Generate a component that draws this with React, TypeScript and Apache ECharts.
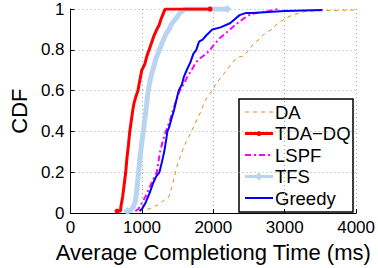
import React, { useEffect, useRef } from "react";
import * as echarts from "echarts";

const seriesNames = ["DA", "TDA\u2212DQ", "LSPF", "TFS", "Greedy"];
const xTicks = [0, 1000, 2000, 3000, 4000];
const yTicks = [0, 0.2, 0.4, 0.6, 0.8, 1];

const daData: [number, number][] = [
  [975, 0.01], [1000, 0.02], [1100, 0.02], [1222, 0.04], [1300, 0.06], [1380, 0.08], [1420, 0.13],
  [1470, 0.2], [1500, 0.24], [1560, 0.3], [1620, 0.35], [1694, 0.4], [1760, 0.45], [1829, 0.5],
  [1870, 0.54], [1920, 0.57], [1987, 0.6], [2050, 0.64], [2120, 0.67], [2189, 0.7], [2250, 0.73],
  [2324, 0.76], [2420, 0.77], [2503, 0.8], [2560, 0.83], [2638, 0.85], [2720, 0.88], [2818, 0.9],
  [2900, 0.93], [2998, 0.95], [3100, 0.97], [3222, 0.98], [3300, 0.99], [3990, 0.995],
];
const tdaData: [number, number][] = [
  [652, 0.01], [700, 0.01], [705, 0.03], [730, 0.08], [755, 0.15], [773, 0.2], [790, 0.27],
  [810, 0.33], [830, 0.4], [850, 0.45], [870, 0.5], [890, 0.54], [915, 0.57], [944, 0.6],
  [970, 0.65], [998, 0.7], [1040, 0.73], [1070, 0.77], [1101, 0.8], [1140, 0.84], [1170, 0.87],
  [1209, 0.9], [1240, 0.92], [1267, 0.95], [1290, 0.97], [1326, 1.0], [1955, 1.0],
];
const lspfData: [number, number][] = [
  [908, 0.01], [950, 0.02], [1000, 0.05], [1050, 0.08], [1100, 0.12], [1150, 0.16], [1209, 0.2],
  [1230, 0.25], [1254, 0.3], [1290, 0.35], [1335, 0.4], [1390, 0.45], [1430, 0.5], [1480, 0.55],
  [1530, 0.6], [1582, 0.63], [1640, 0.67], [1694, 0.7], [1760, 0.74], [1820, 0.76], [1900, 0.78],
  [1955, 0.8], [2020, 0.83], [2100, 0.86], [2170, 0.88], [2234, 0.9], [2300, 0.92], [2413, 0.95],
  [2500, 0.97], [2593, 0.98], [2700, 0.985], [2908, 1.0],
];
const tfsData: [number, number][] = [
  [795, 0.01], [830, 0.01], [880, 0.03], [908, 0.06], [930, 0.12], [953, 0.2], [975, 0.28],
  [1000, 0.35], [1020, 0.4], [1045, 0.47], [1065, 0.53], [1088, 0.6], [1120, 0.66], [1160, 0.71],
  [1200, 0.76], [1245, 0.8], [1290, 0.84], [1340, 0.88], [1380, 0.9], [1420, 0.93], [1470, 0.95],
  [1530, 0.98], [1604, 1.0], [2198, 1.0],
];
const greedyData: [number, number][] = [
  [966, 0.01], [1000, 0.02], [1050, 0.05], [1110, 0.1], [1160, 0.15], [1200, 0.18], [1245, 0.2],
  [1280, 0.25], [1312, 0.3], [1340, 0.36], [1357, 0.4], [1380, 0.42], [1420, 0.47], [1447, 0.5],
  [1480, 0.55], [1515, 0.6], [1560, 0.63], [1590, 0.67], [1627, 0.7], [1680, 0.74], [1720, 0.78],
  [1762, 0.8], [1800, 0.84], [1850, 0.85], [1900, 0.87], [1987, 0.9], [2100, 0.91], [2234, 0.93],
  [2300, 0.95], [2368, 0.97], [2450, 0.98], [2548, 0.98], [2998, 0.99], [3528, 0.995],
];

const FONT = "'Liberation Sans', Arial, Helvetica, sans-serif";

const COLORS = ["#e08a1e", "#ff0000", "#ff00ff", "#b8d4f0", "#0000ff"];
const WIDTHS = [1, 3, 2, 5, 2];
const DASHES: any[] = [[4, 4], "solid", [6, 3, 2, 3], "solid", "solid"];

function endMarked(data: [number, number][]) {
  return data.map((p, i) =>
    i === 0 || i === data.length - 1 ? { value: p } : { value: p, symbol: "none" }
  );
}

function legendGraphic() {
  const bx = 239, by = 99, bw = 114, bh = 113;
  const rows = [112, 133.5, 155, 176.5, 198];
  const children: any[] = [
    {
      type: "rect",
      shape: { x: bx, y: by, width: bw, height: bh },
      style: { fill: "#fff", stroke: "#000", lineWidth: 1.5 },
    },
  ];
  seriesNames.forEach((n, i) => {
    const y = rows[i];
    children.push({
      type: "line",
      shape: { x1: 245, y1: y, x2: 273, y2: y },
      style: {
        stroke: COLORS[i],
        lineWidth: i === 3 ? 3 : WIDTHS[i],
        lineDash: DASHES[i] === "solid" ? null : DASHES[i],
      },
    });
    if (i === 1) {
      children.push({ type: "circle", shape: { cx: 259, cy: y, r: 2.5 }, style: { fill: COLORS[i] } });
    }
    if (i === 3) {
      children.push({
        type: "polygon",
        shape: { points: [[259, y - 4], [263, y], [259, y + 4], [255, y]] },
        style: { fill: COLORS[i] },
      });
    }
    children.push({
      type: "text",
      x: 275,
      y,
      style: {
        text: n,
        fontFamily: FONT,
        fontSize: 18.5,
        fill: "#000",
        verticalAlign: "middle",
        align: "left",
      },
    });
  });
  return [{ type: "group", children, z: 100 }];
}

export default function App() {
  const ref = useRef<HTMLDivElement>(null);
  useEffect(() => {
    if (!ref.current) return;
    const chart = echarts.init(ref.current, null, { renderer: "svg" });
    chart.setOption({
      animation: false,
      backgroundColor: "#ffffff",
      grid: { left: 61, right: 20, top: 9, bottom: 51 },
      xAxis: {
        type: "value",
        min: xTicks[0],
        max: xTicks[xTicks.length - 1],
        interval: 1000,
        name: "Average Completiong Time (ms)",
        nameLocation: "middle",
        nameGap: 20,
        nameTextStyle: { fontFamily: FONT, fontSize: 22, color: "#000" },
        axisLine: { show: true, lineStyle: { color: "#000", width: 1 } },
        axisTick: { show: true, inside: true, length: 4, lineStyle: { color: "#000" } },
        axisLabel: { fontFamily: FONT, fontSize: 17, color: "#000", margin: 6, formatter: (v: number) => String(v) },
        splitLine: { show: true, lineStyle: { color: "#aaa", type: [1, 3], width: 1 } },
      },
      yAxis: {
        type: "value",
        min: yTicks[0],
        max: yTicks[yTicks.length - 1],
        interval: 0.2,
        name: "CDF",
        nameLocation: "middle",
        nameGap: 36,
        nameTextStyle: { fontFamily: FONT, fontSize: 22, color: "#000" },
        axisLine: { show: true, lineStyle: { color: "#000", width: 1 } },
        axisTick: { show: true, inside: true, length: 4, lineStyle: { color: "#000" } },
        axisLabel: { fontFamily: FONT, fontSize: 17, color: "#000", margin: 6, formatter: (v: number) => String(v) },
        splitLine: { show: true, lineStyle: { color: "#aaa", type: [1, 3], width: 1 } },
      },
      graphic: legendGraphic(),
      series: [
        {
          name: seriesNames[0],
          type: "line",
          data: daData,
          symbol: "none",
          lineStyle: { color: COLORS[0], width: WIDTHS[0], type: DASHES[0] },
          itemStyle: { color: COLORS[0] },
          z: 1,
        },
        {
          name: seriesNames[2],
          type: "line",
          data: lspfData,
          symbol: "none",
          lineStyle: { color: COLORS[2], width: WIDTHS[2], type: DASHES[2] },
          itemStyle: { color: COLORS[2] },
          z: 2,
        },
        {
          name: seriesNames[4],
          type: "line",
          data: greedyData,
          symbol: "none",
          lineStyle: { color: COLORS[4], width: WIDTHS[4] },
          itemStyle: { color: COLORS[4] },
          z: 3,
        },
        {
          name: seriesNames[3],
          type: "line",
          data: endMarked(tfsData),
          symbol: "diamond",
          symbolSize: 8,
          showSymbol: true,
          lineStyle: { color: COLORS[3], width: WIDTHS[3] },
          itemStyle: { color: COLORS[3] },
          z: 4,
        },
        {
          name: seriesNames[1],
          type: "line",
          data: endMarked(tdaData),
          symbol: "circle",
          symbolSize: 5,
          showSymbol: true,
          lineStyle: { color: COLORS[1], width: WIDTHS[1] },
          itemStyle: { color: COLORS[1] },
          z: 5,
        },
      ],
    });
    return () => chart.dispose();
  }, []);
  return (
    <div
      ref={ref}
      style={{ position: "absolute", left: 0, top: 0, width: 378, height: 268 }}
    />
  );
}
